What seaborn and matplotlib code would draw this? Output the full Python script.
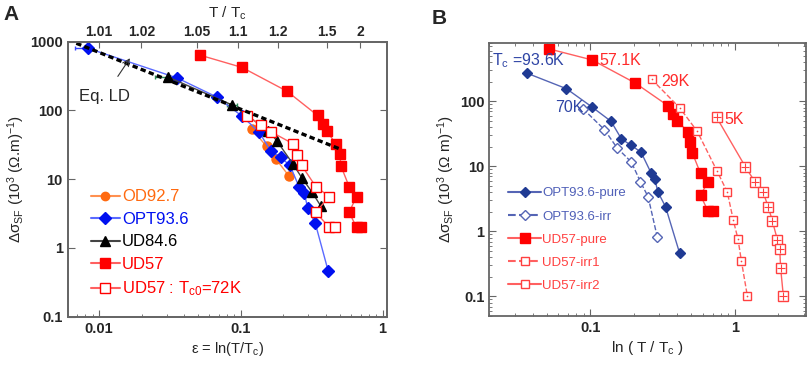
"""
Superconducting fluctuation conductivity vs reduced temperature
(A) different dopings, (B) pure vs irradiated samples
"""

import numpy as np
import pandas as pd
import matplotlib
matplotlib.use("Agg")
import matplotlib.pyplot as plt
from matplotlib.lines import Line2D
import seaborn as sns

# ---------------- panel A data ----------------
od927_eps = [0.120, 0.152, 0.177, 0.218]
od927_sig = [53, 30, 19.6, 11.2]

opt936_eps = [0.00836, 0.0355, 0.0675, 0.102, 0.135, 0.162, 0.191, 0.222,
              0.258, 0.280, 0.296, 0.335, 0.413]
opt936_sig = [800, 297, 157, 82.6, 48, 26, 20.7, 15.9, 7.7, 6.4, 3.84, 2.3, 0.466]

ud846_eps = [0.0304, 0.0869, 0.156, 0.179, 0.232, 0.271, 0.316, 0.367]
ud846_sig = [308, 120, 51, 36.4, 16.9, 10.3, 6.6, 4.06]

ud57_eps = [0.0514, 0.102, 0.212, 0.348, 0.381, 0.403, 0.468, 0.50, 0.508,
            0.581, 0.655, 0.581, 0.655, 0.70]
ud57_sig = [638, 422, 190, 84.5, 64, 51, 32.5, 23, 15.7, 7.8, 5.6, 3.3, 2.0, 2.0]

ud57tc0_eps = [0.110, 0.138, 0.163, 0.232, 0.251, 0.268, 0.338, 0.42, 0.338,
               0.42, 0.46]
ud57tc0_sig = [83, 62, 49, 33, 22.7, 16, 7.8, 5.6, 3.3, 2.0, 2.0]

ld_eps = [0.0069, 0.50]
ld_sig = [948, 27.5]

# horizontal error bars (left extent only)
err_eps = [0.00836, 0.0304, 0.0869]
err_sig = [800, 308, 120]
err_left = [0.00675, 0.0248, 0.080]
err_right = [0.00836, 0.0304, 0.094]
err_colors = ['#3344ff', '#2e8b57', '#2e8b57']

top_ticks = [1.01, 1.02, 1.05, 1.1, 1.2, 1.5, 2]
top_labels = ['1.01', '1.02', '1.05', '1.1', '1.2', '1.5', '2']

# ---------------- panel B data ----------------
b_opt_pure_x = [0.0364, 0.0683, 0.1027, 0.139, 0.164, 0.192, 0.224, 0.264,
                0.279, 0.294, 0.331, 0.414]
b_opt_pure_y = [272, 157, 82, 49.4, 26.5, 21, 16.6, 7.8, 6.3, 4.0, 2.4, 0.466]

b_opt_irr_x = [0.089, 0.125, 0.153, 0.192, 0.222, 0.251, 0.29]
b_opt_irr_y = [77, 36.9, 19.3, 11.7, 5.8, 3.4, 0.826]

b_ud57_pure_x = [0.052, 0.103, 0.205, 0.344, 0.374, 0.399, 0.472, 0.487,
                 0.507, 0.578, 0.65, 0.578, 0.65, 0.71]
b_ud57_pure_y = [641, 434, 191, 86, 65, 50.6, 34, 23.9, 16.2, 7.8, 5.8, 3.6,
                 2.07, 2.07]

b_ud57_irr1_x = [0.265, 0.416, 0.548, 0.75, 0.885, 0.974, 1.05, 1.107, 1.22]
b_ud57_irr1_y = [220, 79, 34.8, 8.6, 4.04, 1.49, 0.76, 0.355, 0.1]

b_ud57_irr2_x = [0.746, 1.18, 1.377, 1.563, 1.70, 1.815, 1.967, 2.04, 2.07, 2.16]
b_ud57_irr2_y = [57, 9.9, 5.75, 4.04, 2.38, 1.45, 0.736, 0.536, 0.271, 0.103]

b_labels = ['OPT93.6-pure', 'OPT93.6-irr', 'UD57-pure', 'UD57-irr1', 'UD57-irr2']

# ---------------- style ----------------
sns.set_style("ticks")
plt.rcParams['font.family'] = ['Liberation Sans', 'DejaVu Sans']
plt.rcParams['mathtext.default'] = 'regular'
plt.rcParams['xtick.direction'] = 'in'
plt.rcParams['ytick.direction'] = 'in'

SPINE = '#666666'
ORANGE, ORANGE_L = '#ff6a10', '#ff9050'
BLUE, BLUE_L = '#0010f0', '#5a6aff'
RED, RED_L = '#ff0000', '#ff6060'
NAVY, NAVY_L = '#1f3a93', '#5565b5'

fig = plt.figure(figsize=(8.09, 3.65), dpi=100)
axA = fig.add_axes([0.0837, 0.1323, 0.3943, 0.7535])
axB = fig.add_axes([0.6048, 0.1342, 0.3915, 0.7488])


def draw(ax, x, y, color, lcolor, marker, ms, face=None, ls='-', lw=1.0, mew=1.0):
    df = pd.DataFrame({'x': x, 'y': y})
    sns.lineplot(data=df, x='x', y='y', ax=ax, sort=False, estimator=None,
                 color=lcolor, lw=lw, linestyle=ls, marker=marker, markersize=ms,
                 markerfacecolor=face if face is not None else color,
                 markeredgecolor=color, markeredgewidth=mew)


def bold_ticks(ax):
    for t in ax.get_xticklabels() + ax.get_yticklabels():
        t.set_fontweight('bold')


# ---------------- panel A ----------------
for x, xl, xr, y, c in zip(err_eps, err_left, err_right, err_sig, err_colors):
    axA.errorbar([x], [y], xerr=[[x - xl], [xr - x]], fmt='none', ecolor=c,
                 elinewidth=1.0, capsize=1.5, zorder=1)

draw(axA, od927_eps, od927_sig, ORANGE, ORANGE_L, 'o', 6.5)
draw(axA, opt936_eps, opt936_sig, BLUE, BLUE_L, 'D', 6)
draw(axA, ud846_eps, ud846_sig, 'black', '#444444', '^', 7)
draw(axA, ud57_eps, ud57_sig, RED, RED_L, 's', 7)
draw(axA, ud57tc0_eps, ud57tc0_sig, RED, RED_L, 's', 7, face='white')
sns.lineplot(x=ld_eps, y=ld_sig, ax=axA, color='black', lw=2.4,
             linestyle=(0, (1.6, 1.0)), sort=False, estimator=None)

axA.set_xscale('log')
axA.set_yscale('log')
axA.set_xlim(0.006, 1.07)
axA.set_ylim(0.1, 1000)
axA.set_xticks([0.01, 0.1, 1])
axA.set_xticklabels(['0.01', '0.1', '1'])
axA.set_yticks([0.1, 1, 10, 100, 1000])
axA.set_yticklabels(['0.1', '1', '10', '100', '1000'])
axA.set_xlabel('ε = ln(T/T$_c$)', fontsize=10.5, labelpad=3)
axA.set_ylabel('Δσ$_{SF}$ (10$^3$ (Ω.m)$^{-1}$)', fontsize=11, labelpad=2)
axA.tick_params(which='both', top=False, right=True, labelsize=10.5)
axA.tick_params(which='major', length=5)
axA.tick_params(which='minor', length=2.5)
bold_ticks(axA)

# top axis in T/Tc
topA = axA.twiny()
topA.set_xscale('log')
topA.set_xlim(axA.get_xlim())
topA.set_xticks(np.log(top_ticks))
topA.set_xticklabels(top_labels)
topA.minorticks_off()
topA.tick_params(direction='in', length=4, labelsize=10, pad=2)
for t in topA.get_xticklabels():
    t.set_fontweight('bold')
topA.set_xlabel('T / T$_c$', fontsize=11, labelpad=5)

axA.annotate('Eq. LD', xy=(0.0165, 575), xytext=(0.0109, 160), fontsize=12,
             ha='center', va='center',
             arrowprops=dict(arrowstyle='->', color='#333333', lw=0.8,
                             shrinkA=8, shrinkB=0))

hA = [Line2D([], [], color=ORANGE_L, marker='o', ms=6, mfc=ORANGE, mec=ORANGE),
      Line2D([], [], color=BLUE_L, marker='D', ms=6, mfc=BLUE, mec=BLUE),
      Line2D([], [], color='#444444', marker='^', ms=7, mfc='black', mec='black'),
      Line2D([], [], color=RED_L, marker='s', ms=7, mfc=RED, mec=RED),
      Line2D([], [], color=RED_L, marker='s', ms=7, mfc='white', mec=RED)]
labA = ['OD92.7', 'OPT93.6', 'UD84.6', 'UD57', 'UD57 : T$_{c0}$=72K']
legA = axA.legend(hA, labA, loc='upper left', bbox_to_anchor=(0.035, 0.505),
                  frameon=False, fontsize=12, handlelength=1.75,
                  handletextpad=0.15, labelspacing=0.45, borderpad=0.2)
for t, c in zip(legA.get_texts(), [ORANGE, BLUE, 'black', RED, RED]):
    t.set_color(c)

# ---------------- panel B ----------------
draw(axB, b_opt_pure_x, b_opt_pure_y, NAVY, NAVY_L, 'D', 5.5)
draw(axB, b_opt_irr_x, b_opt_irr_y, NAVY_L, NAVY_L, 'D', 5.5, face='white',
     ls='--')
draw(axB, b_ud57_pure_x, b_ud57_pure_y, RED, RED_L, 's', 6.5)
draw(axB, b_ud57_irr1_x, b_ud57_irr1_y, '#ff4040', RED_L, 's', 6, face='white',
     ls='--')
draw(axB, b_ud57_irr2_x, b_ud57_irr2_y, '#ff4040', RED_L, 's', 6.5, face='white')
sns.scatterplot(x=b_ud57_irr2_x, y=b_ud57_irr2_y, ax=axB, marker='+', s=30,
                color='#ff4040', linewidth=0.8, zorder=5)
sns.scatterplot(x=b_ud57_irr1_x, y=b_ud57_irr1_y, ax=axB, marker='.', s=6,
                color='#ff4040', linewidth=0, zorder=5)

axB.set_xscale('log')
axB.set_yscale('log')
axB.set_xlim(0.02, 3.1)
axB.set_ylim(0.05, 800)
axB.set_xticks([0.1, 1])
axB.set_xticklabels(['0.1', '1'])
axB.set_yticks([0.1, 1, 10, 100])
axB.set_yticklabels(['0.1', '1', '10', '100'])
axB.set_xlabel('ln ( T / T$_c$ )', fontsize=11, labelpad=3)
axB.set_ylabel('Δσ$_{SF}$ (10$^3$ (Ω m)$^{-1}$)', fontsize=11, labelpad=2)
axB.tick_params(which='both', top=True, right=True, labelsize=10.5)
axB.tick_params(which='major', length=5)
axB.tick_params(which='minor', length=2.5)
bold_ticks(axB)

axB.text(0.0208, 420, 'T$_c$ =93.6K', color='#2f45a5', fontsize=11.5,
         va='center', ha='left')
axB.text(0.057, 80, '70K', color='#2f45a5', fontsize=11.5, va='center')
axB.text(0.116, 420, '57.1K', color='#ff2a2a', fontsize=11.5, va='center')
axB.text(0.31, 205, '29K', color='#ff2a2a', fontsize=11.5, va='center')
axB.text(0.84, 52, '5K', color='#ff2a2a', fontsize=11.5, va='center')

hB = [Line2D([], [], color=NAVY_L, marker='D', ms=5.5, mfc=NAVY, mec=NAVY),
      Line2D([], [], color=NAVY_L, ls='--', marker='D', ms=5.5, mfc='white',
             mec=NAVY_L),
      Line2D([], [], color=RED_L, marker='s', ms=6.5, mfc=RED, mec=RED),
      Line2D([], [], color=RED_L, ls='--', marker='s', ms=5.5, mfc='white',
             mec='#ff4040'),
      Line2D([], [], color=RED_L, marker='s', ms=6, mfc='white', mec='#ff4040')]
legB = axB.legend(hB, b_labels, loc='upper left', bbox_to_anchor=(0.03, 0.505),
                  frameon=False, fontsize=9.5, handlelength=2.5,
                  handletextpad=0.1, labelspacing=0.82, borderpad=0.2)
for t, c in zip(legB.get_texts(), ['#5060b8', '#5060b8', '#ff4040', '#ff4040',
                                   '#ff4040']):
    t.set_color(c)

for ax in (axA, topA, axB):
    for s in ax.spines.values():
        s.set_color(SPINE)
        s.set_linewidth(1.3)
for ax in (axA, axB):
    ax.tick_params(which='both', color=SPINE)
topA.tick_params(color=SPINE)

fig.text(0.004, 0.985, 'A', fontsize=15, fontweight='bold', va='top')
fig.text(0.533, 0.975, 'B', fontsize=15, fontweight='bold', va='top')

fig.savefig('out.png', dpi=100)
